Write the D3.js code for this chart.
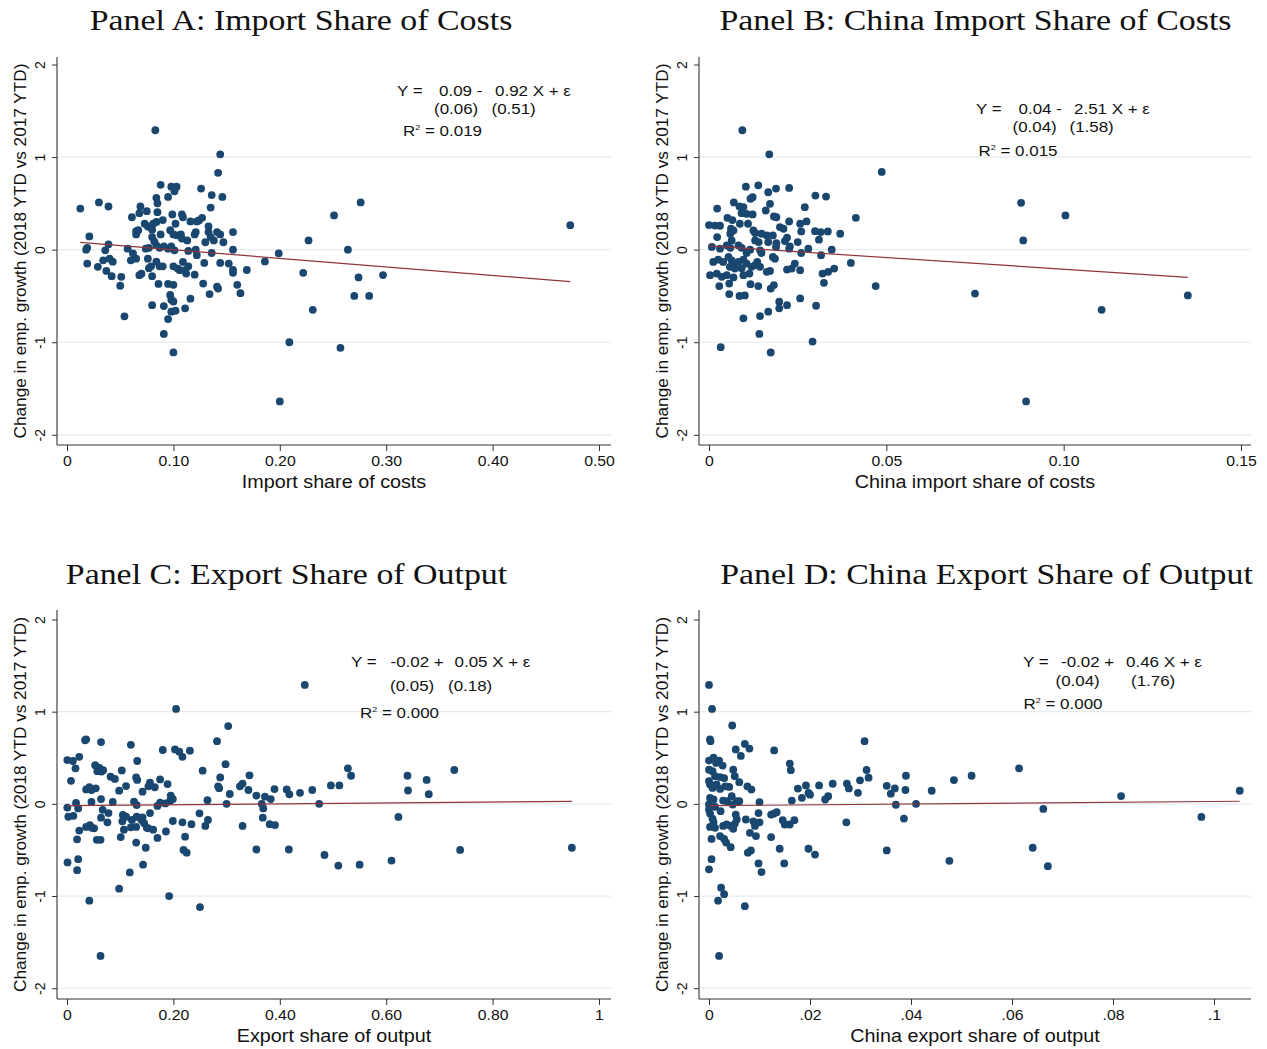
<!DOCTYPE html>
<html>
<head>
<meta charset="utf-8">
<script src="https://cdn.jsdelivr.net/npm/d3@7"></script>
<style>
  body { margin: 0; background: #fff; }
  svg { display: block; }
</style>
</head>
<body>
<svg id="chart" width="1267" height="1049"></svg>
<script>
// scatter points: [x, change in emp. growth]
const importShare = [
  [0.083,1.29],[0.144,1.03],[0.142,0.83],[0.088,0.70],[0.098,0.68],[0.103,0.68],[0.101,0.63],[0.126,0.66],
  [0.136,0.59],[0.146,0.57],[0.095,0.57],[0.084,0.56],[0.085,0.50],[0.135,0.455],[0.0125,0.444],[0.030,0.51],
  [0.039,0.466],[0.069,0.466],[0.068,0.394],[0.075,0.416],[0.061,0.35],[0.085,0.405],[0.099,0.38],[0.108,0.38],
  [0.109,0.35],[0.116,0.305],[0.122,0.305],[0.127,0.344],[0.124,0.315],[0.102,0.28],[0.073,0.28],[0.076,0.25],
  [0.081,0.28],[0.084,0.30],[0.080,0.215],[0.065,0.20],[0.065,0.165],[0.067,0.21],[0.090,0.32],[0.097,0.21],
  [0.100,0.165],[0.103,0.155],[0.107,0.165],[0.108,0.12],[0.113,0.10],[0.088,0.165],[0.080,0.136],[0.082,0.09],
  [0.121,0.19],[0.120,0.165],[0.133,0.19],[0.133,0.25],[0.141,0.19],[0.144,0.165],[0.147,0.08],[0.156,0.19],
  [0.130,0.08],[0.135,0.136],[0.138,0.10],[0.021,0.143],[0.039,0.057],[0.019,0.02],[0.018,0.0],[0.036,-0.007],
  [0.057,0.01],[0.074,0.01],[0.077,0.02],[0.084,0.047],[0.087,0.02],[0.091,0.036],[0.095,0.01],[0.098,0.036],
  [0.101,-0.007],[0.114,-0.014],[0.121,0.0],[0.156,0.0],[0.136,-0.036],[0.062,-0.04],[0.060,-0.115],[0.040,-0.097],
  [0.043,-0.13],[0.034,-0.115],[0.019,-0.15],[0.029,-0.186],[0.065,-0.097],[0.076,-0.097],[0.084,-0.13],[0.087,-0.18],
  [0.090,-0.18],[0.077,-0.20],[0.079,-0.18],[0.100,-0.18],[0.104,-0.204],[0.106,-0.222],[0.111,-0.222],[0.114,-0.18],
  [0.112,-0.258],[0.109,-0.133],[0.129,-0.143],[0.122,-0.06],[0.144,-0.143],[0.152,-0.15],[0.156,-0.22],[0.156,-0.25],
  [0.169,-0.22],[0.037,-0.23],[0.042,-0.287],[0.051,-0.294],[0.050,-0.39],[0.068,-0.276],[0.070,-0.26],[0.080,-0.287],
  [0.120,-0.27],[0.086,-0.37],[0.095,-0.37],[0.100,-0.38],[0.128,-0.366],[0.141,-0.40],[0.142,-0.42],[0.134,-0.48],
  [0.160,-0.38],[0.163,-0.47],[0.097,-0.49],[0.098,-0.54],[0.100,-0.56],[0.116,-0.53],[0.080,-0.60],[0.091,-0.61],
  [0.111,-0.634],[0.098,-0.67],[0.102,-0.66],[0.054,-0.72],[0.095,-0.75],[0.091,-0.91],[0.100,-1.11],
  [0.186,-0.127],[0.199,-0.04],[0.200,-1.64],[0.209,-1.0],[0.222,-0.25],[0.227,0.10],[0.231,-0.65],[0.251,0.37],
  [0.257,-1.06],[0.264,0.0],[0.270,-0.50],[0.274,-0.30],[0.276,0.51],[0.284,-0.50],[0.297,-0.275],[0.473,0.264]
];

const chinaImportShare = [
  [0.0094,1.29],[0.017,1.03],[0.0487,0.84],[0.088,0.506],[0.1005,0.37],[0.0886,0.10],[0.047,-0.394],[0.075,-0.474],
  [0.135,-0.495],[0.1107,-0.65],[0.0894,-1.64],
  [0.0104,0.68],[0.0139,0.695],[0.0167,0.62],[0.0189,0.66],[0.0226,0.667],[0.030,0.584],[0.033,0.573],[0.0123,0.566],
  [0.0117,0.55],[0.0172,0.495],[0.007,0.51],[0.0086,0.466],[0.0097,0.46],[0.0092,0.394],[0.0023,0.444],[0.027,0.459],
  [0.016,0.423],[0.0106,0.387],[0.0123,0.38],[0.0052,0.344],[0.0066,0.32],[0.0183,0.358],[0.019,0.35],[0.0414,0.344],
  [0.0226,0.305],[0.0,0.265],[0.0017,0.26],[0.0031,0.258],[0.0257,0.28],[0.0275,0.305],[0.0087,0.28],[0.011,0.28],
  [0.0062,0.226],[0.0069,0.208],[0.0125,0.208],[0.013,0.18],[0.020,0.244],[0.021,0.226],[0.026,0.197],[0.0299,0.20],
  [0.0315,0.19],[0.0335,0.197],[0.037,0.172],[0.031,0.108],[0.0023,0.136],[0.006,0.172],[0.0064,0.10],[0.0148,0.172],
  [0.0163,0.154],[0.018,0.154],[0.013,0.10],[0.014,0.082],[0.0167,0.082],[0.022,0.129],[0.0214,0.093],[0.019,0.07],
  [0.0189,0.029],[0.0228,0.036],[0.0226,0.01],[0.025,0.082],[0.028,0.01],[0.0346,0.0],[0.0008,0.029],[0.0031,0.01],
  [0.0083,0.047],[0.0092,0.02],[0.005,0.047],[0.006,0.02],[0.0106,-0.036],[0.0116,0.0],[0.0144,-0.007],[0.0148,-0.036],
  [0.0186,-0.097],[0.018,-0.079],[0.026,-0.036],[0.0316,-0.06],[0.040,-0.143],[0.0012,-0.133],[0.0026,-0.108],[0.004,-0.133],
  [0.0055,-0.079],[0.0064,-0.115],[0.0069,-0.168],[0.0059,-0.186],[0.0073,-0.204],[0.0097,-0.108],[0.0106,-0.15],[0.0092,-0.20],
  [0.0083,-0.133],[0.012,-0.186],[0.013,-0.168],[0.0136,-0.133],[0.0144,-0.186],[0.0114,-0.258],[0.0097,-0.276],[0.0163,-0.24],
  [0.0172,-0.23],[0.022,-0.215],[0.0233,-0.204],[0.0242,-0.15],[0.0257,-0.222],[0.0003,-0.276],[0.0022,-0.258],[0.0036,-0.294],
  [0.005,-0.276],[0.0069,-0.30],[0.032,-0.258],[0.0336,-0.24],[0.0353,-0.204],[0.0029,-0.394],[0.0057,-0.366],[0.0117,-0.373],
  [0.0139,-0.394],[0.0174,-0.42],[0.0183,-0.383],[0.0324,-0.358],[0.0057,-0.48],[0.0086,-0.50],[0.0101,-0.495],[0.0198,-0.563],
  [0.0198,-0.634],[0.022,-0.60],[0.0257,-0.527],[0.0302,-0.606],[0.0167,-0.67],[0.0144,-0.717],[0.0097,-0.742],[0.0142,-0.91],
  [0.0292,-0.993],[0.0033,-1.054],[0.0174,-1.111]
];

const exportShare = [
  [0.447,1.29],[0.205,1.03],[0.303,0.844],[0.034,0.69],[0.036,0.70],[0.064,0.67],[0.120,0.64],[0.180,0.584],
  [0.203,0.59],[0.211,0.566],[0.217,0.51],[0.231,0.577],[0.282,0.68],[0.0006,0.475],[0.011,0.465],[0.023,0.51],
  [0.016,0.385],[0.132,0.465],[0.298,0.43],[0.255,0.36],[0.053,0.42],[0.061,0.39],[0.057,0.355],[0.065,0.35],
  [0.068,0.365],[0.103,0.363],[0.082,0.294],[0.090,0.27],[0.0075,0.25],[0.130,0.287],[0.132,0.26],[0.156,0.23],
  [0.153,0.19],[0.165,0.18],[0.175,0.265],[0.189,0.215],[0.288,0.287],[0.284,0.19],[0.286,0.17],[0.330,0.22],
  [0.325,0.19],[0.343,0.31],[0.341,0.15],[0.306,0.107],[0.356,0.09],[0.372,0.078],[0.383,0.052],[0.390,0.16],
  [0.413,0.157],[0.418,0.103],[0.438,0.12],[0.461,0.15],[0.496,0.20],[0.512,0.20],[0.474,0.0],[0.036,0.157],
  [0.042,0.18],[0.046,0.15],[0.054,0.168],[0.098,0.143],[0.111,0.193],[0.142,0.132],[0.0006,-0.04],[0.0025,-0.14],
  [0.012,-0.13],[0.017,0.01],[0.021,-0.05],[0.046,0.02],[0.064,0.052],[0.086,0.02],[0.126,0.023],[0.131,-0.013],
  [0.142,-0.146],[0.156,-0.10],[0.170,-0.023],[0.175,0.013],[0.185,0.005],[0.194,0.034],[0.199,0.052],[0.195,0.09],
  [0.264,0.04],[0.300,0.0],[0.366,0.0],[0.369,-0.05],[0.067,-0.065],[0.064,-0.15],[0.078,-0.10],[0.105,-0.12],
  [0.111,-0.14],[0.122,-0.175],[0.131,-0.14],[0.140,-0.175],[0.145,-0.21],[0.153,-0.265],[0.130,-0.25],[0.120,-0.255],
  [0.036,-0.25],[0.043,-0.23],[0.047,-0.26],[0.051,-0.265],[0.076,-0.20],[0.104,-0.19],[0.107,-0.28],[0.023,-0.29],
  [0.150,-0.26],[0.162,-0.28],[0.186,-0.30],[0.170,-0.37],[0.101,-0.36],[0.019,-0.385],[0.056,-0.39],[0.063,-0.39],
  [0.199,-0.186],[0.217,-0.20],[0.234,-0.22],[0.222,-0.356],[0.249,-0.103],[0.260,-0.24],[0.265,-0.175],[0.130,-0.42],
  [0.148,-0.476],[0.219,-0.50],[0.225,-0.53],[0.330,-0.24],[0.368,-0.15],[0.381,-0.22],[0.391,-0.23],[0.356,-0.495],
  [0.417,-0.495],[0.484,-0.555],[0.510,-0.67],[0.001,-0.635],[0.021,-0.60],[0.019,-0.72],[0.143,-0.66],[0.118,-0.744],
  [0.098,-0.92],[0.192,-1.0],[0.042,-1.05],[0.063,-1.65],[0.250,-1.12],
  [0.528,0.385],[0.534,0.305],[0.550,-0.66],[0.610,-0.615],[0.623,-0.142],[0.640,0.305],[0.641,0.145],[0.676,0.26],
  [0.680,0.105],[0.728,0.367],[0.739,-0.50],[0.949,-0.476]
];

const chinaExportShare = [
  [0.0,1.29],[0.0006,1.03],[0.0046,0.85],[0.0002,0.70],[0.0003,0.68],[0.0071,0.65],[0.008,0.60],[0.0053,0.59],
  [0.0063,0.52],[0.0129,0.58],[0.016,0.437],[0.0162,0.365],[0.0,0.47],[0.0009,0.50],[0.0014,0.444],[0.002,0.47],
  [0.0027,0.415],[0.0,0.37],[0.0007,0.354],[0.0048,0.37],[0.0051,0.30],[0.0012,0.30],[0.0022,0.29],[0.003,0.28],
  [0.0,0.245],[0.0002,0.21],[0.0007,0.173],[0.006,0.235],[0.0076,0.19],[0.0084,0.155],[0.0015,0.21],[0.0022,0.162],
  [0.0032,0.19],[0.004,0.184],[0.0176,0.166],[0.0192,0.20],[0.0197,0.12],[0.0184,0.065],[0.020,0.10],[0.0218,0.20],
  [0.0236,0.083],[0.023,0.047],[0.0164,0.036],[0.0002,0.065],[0.0009,0.047],[0.0028,0.036],[0.0036,0.029],[0.0045,0.083],
  [0.0047,-0.007],[0.0055,0.029],[0.006,0.029],[0.010,0.018],[0.0,-0.007],[0.0,-0.061],[0.0002,-0.105],[0.0012,-0.032],
  [0.0023,-0.08],[0.0007,-0.16],[0.0009,-0.20],[0.0002,-0.25],[0.0012,-0.26],[0.0053,-0.116],[0.0055,-0.17],[0.0051,-0.217],
  [0.0073,-0.17],[0.0088,-0.19],[0.0091,-0.24],[0.0098,-0.10],[0.010,-0.20],[0.0123,-0.116],[0.0129,-0.105],[0.0134,-0.09],
  [0.0146,-0.177],[0.015,-0.224],[0.0169,-0.177],[0.016,-0.224],[0.0028,-0.24],[0.0035,-0.224],[0.0043,-0.24],[0.0048,-0.27],
  [0.0081,-0.314],[0.0093,-0.35],[0.0005,-0.38],[0.0022,-0.35],[0.003,-0.38],[0.0034,-0.42],[0.0043,-0.47],[0.0123,-0.36],
  [0.014,-0.487],[0.0197,-0.487],[0.021,-0.55],[0.0083,-0.505],[0.0077,-0.53],[0.0098,-0.646],[0.0104,-0.74],[0.0149,-0.646],
  [0.0005,-0.60],[0.0,-0.71],[0.0024,-0.91],[0.003,-0.98],[0.0018,-1.05],[0.0071,-1.11],[0.002,-1.65],
  [0.0308,0.68],[0.0312,0.367],[0.0316,0.284],[0.0299,0.255],[0.0295,0.12],[0.0273,0.22],[0.0277,0.167],[0.0245,0.218],
  [0.0272,-0.20],[0.0352,0.196],[0.036,0.11],[0.0368,0.167],[0.037,-0.01],[0.0386,-0.16],[0.039,0.305],[0.0389,0.15],
  [0.041,0.0],[0.0352,-0.505],[0.0441,0.142],[0.0485,0.258],[0.0476,-0.618],[0.052,0.305],[0.0614,0.385],[0.0641,-0.476],
  [0.0662,-0.055],[0.0671,-0.676],[0.0816,0.084],[0.0975,-0.142],[0.1051,0.142]
];

const panelTitles = [
  "Panel A: Import Share of Costs",
  "Panel B: China Import Share of Costs",
  "Panel C: Export Share of Output",
  "Panel D: China Export Share of Output"
];
const xAxisTitles = ["Import share of costs", "China import share of costs", "Export share of output", "China export share of output"];
const yAxisTitle = "Change in emp. growth (2018 YTD vs 2017 YTD)";

const xTickValues = [
  [0, 0.1, 0.2, 0.3, 0.4, 0.5],
  [0, 0.05, 0.10, 0.15],
  [0, 0.2, 0.4, 0.6, 0.8, 1],
  [0, 0.02, 0.04, 0.06, 0.08, 0.1]
];
const xTickLabels = [
  ["0", "0.10", "0.20", "0.30", "0.40", "0.50"],
  ["0", "0.05", "0.10", "0.15"],
  ["0", "0.20", "0.40", "0.60", "0.80", "1"],
  ["0", ".02", ".04", ".06", ".08", ".1"]
];
const yTickValues = [-2, -1, 0, 1, 2];
const yTickLabels = ["-2", "-1", "0", "1", "2"];
const gridValues = [-2, -1, 0, 1];

// regression results: intercept, slope, standard errors, R-squared
const intercepts = [0.09, 0.04, -0.02, -0.02];
const slopes = [-0.92, -2.51, 0.05, 0.46];
const interceptSE = [0.06, 0.04, 0.05, 0.04];
const slopeSE = [0.51, 1.58, 0.18, 1.76];
const rSquared = ["0.019", "0.015", "0.000", "0.000"];

const datasets = [importShare, chinaImportShare, exportShare, chinaExportShare];

// page layout (pixels)
const layout = [
  { left: 57, right: 611, top: 57, bottom: 445, xTick0: 67, xTick1: 599, yTop: 64.5, yBot: 434.8,
    titleX: 301, titleY: 30,
    eq: { x: [397, 439, 495], se: [434, 491.5], r2: 403, rows: [95.5, 113.8, 135.5] } },
  { left: 699, right: 1251, top: 57, bottom: 445, xTick0: 709, xTick1: 1241, yTop: 64.5, yBot: 434.8,
    titleX: 975.5, titleY: 30,
    eq: { x: [976, 1018.5, 1074], se: [1012.5, 1069.5], r2: 978.5, rows: [113.5, 132, 155.5] } },
  { left: 57, right: 611, top: 610, bottom: 999, xTick0: 67, xTick1: 599, yTop: 619.5, yBot: 988.2,
    titleX: 286.5, titleY: 584,
    eq: { x: [351, 390.5, 454.5], se: [390, 448], r2: 360, rows: [667, 690.5, 717.5] } },
  { left: 699, right: 1251, top: 610, bottom: 999, xTick0: 709, xTick1: 1214, yTop: 619.5, yBot: 988.2,
    titleX: 986.5, titleY: 584,
    eq: { x: [1023, 1061, 1126], se: [1055.5, 1131], r2: 1023.5, rows: [667, 685.5, 709] } }
];

const SX = 1.13;          // the figure is slightly stretched horizontally
const navy = "#1a476f";
const maroon = "#90353b";
const gridColor = "#e3ecef";
const axisColor = "#333";
const sans = "'Liberation Sans', Arial, Helvetica, sans-serif";
const serif = "'Liberation Serif', 'Times New Roman', serif";

const svg = d3.select("#chart");
// plain hyphen for negative numbers, as in the original
const fmt = d3.formatLocale({ decimal: ".", thousands: ",", grouping: [3], currency: ["", ""], minus: "-" }).format(".2f");

function hText(g, x, y, str, size, anchor, family) {
  return g.append("text")
    .attr("transform", `translate(${x},${y}) scale(${SX},1)`)
    .attr("text-anchor", anchor || "start")
    .style("font-family", family || sans)
    .style("font-size", size + "px")
    .attr("fill", "#111")
    .text(str);
}

datasets.forEach((data, i) => {
  const L = layout[i];
  const ticks = xTickValues[i];
  const g = svg.append("g").attr("class", "panel");

  const xScale = d3.scaleLinear()
    .domain([ticks[0], ticks[ticks.length - 1]])
    .range([L.xTick0, L.xTick1]);
  const yScale = d3.scaleLinear()
    .domain([-2, 2])
    .range([L.yBot, L.yTop]);

  // gridlines
  g.selectAll(".grid")
    .data(gridValues)
    .enter()
    .append("line")
    .attr("x1", L.left + 1)
    .attr("x2", L.right)
    .attr("y1", d => yScale(d))
    .attr("y2", d => yScale(d))
    .attr("stroke", gridColor)
    .attr("stroke-width", 1.2);

  // x axis
  const xAxis = d3.axisBottom(xScale)
    .tickValues(ticks)
    .tickFormat((d, k) => xTickLabels[i][k])
    .tickSizeInner(6)
    .tickSizeOuter(0)
    .tickPadding(5);
  const gx = g.append("g")
    .attr("transform", `translate(0, ${L.bottom})`)
    .call(xAxis);
  gx.select(".domain").remove();
  gx.selectAll(".tick line").attr("stroke", axisColor);
  gx.selectAll(".tick text")
    .attr("transform", `scale(${SX},1)`)
    .attr("fill", "#111")
    .style("font-family", sans)
    .style("font-size", "14px");

  // y axis with rotated labels
  const yAxis = d3.axisLeft(yScale)
    .tickValues(yTickValues)
    .tickFormat((d, k) => yTickLabels[k])
    .tickSizeInner(5)
    .tickSizeOuter(0);
  const gy = g.append("g")
    .attr("transform", `translate(${L.left}, 0)`)
    .call(yAxis);
  gy.select(".domain").remove();
  gy.selectAll(".tick line").attr("stroke", axisColor);
  gy.selectAll(".tick text")
    .attr("x", null)
    .attr("dy", null)
    .attr("transform", "translate(-17,0) rotate(-90)")
    .attr("text-anchor", "middle")
    .attr("dominant-baseline", "central")
    .attr("fill", "#111")
    .style("font-family", sans)
    .style("font-size", "14px");

  // axis lines
  g.append("line")
    .attr("x1", L.left).attr("x2", L.left)
    .attr("y1", L.top).attr("y2", L.bottom)
    .attr("stroke", axisColor).attr("stroke-width", 1.1);
  g.append("line")
    .attr("x1", L.left).attr("x2", L.right)
    .attr("y1", L.bottom).attr("y2", L.bottom)
    .attr("stroke", axisColor).attr("stroke-width", 1.1);

  // points
  g.selectAll(".dot")
    .data(data)
    .enter()
    .append("circle")
    .attr("class", "dot")
    .attr("cx", d => xScale(d[0]))
    .attr("cy", d => yScale(d[1]))
    .attr("r", 3.9)
    .attr("fill", navy);

  // fitted line over the data range
  const xExtent = d3.extent(data, d => d[0]);
  const line = d3.line()
    .x(d => xScale(d))
    .y(d => yScale(intercepts[i] + slopes[i] * d));
  g.append("path")
    .datum(xExtent)
    .attr("d", line)
    .attr("fill", "none")
    .attr("stroke", maroon)
    .attr("stroke-width", 1.2);

  // titles
  hText(g, L.titleX, L.titleY, panelTitles[i], 30, "middle", serif);
  hText(g, (L.left + L.right) / 2, L.bottom + 43, xAxisTitles[i], 17.5, "middle");
  g.append("text")
    .attr("transform", `translate(${L.left - 37}, ${(L.top + L.bottom) / 2}) rotate(-90)`)
    .attr("text-anchor", "middle")
    .attr("dominant-baseline", "central")
    .style("font-family", sans)
    .style("font-size", "17.2px")
    .attr("fill", "#111")
    .text(yAxisTitle);

  // regression equation
  const E = L.eq;
  const sign = slopes[i] < 0 ? "-" : "+";
  hText(g, E.x[0], E.rows[0], "Y =", 15);
  hText(g, E.x[1], E.rows[0], `${fmt(intercepts[i])} ${sign}`, 15);
  hText(g, E.x[2], E.rows[0], `${fmt(Math.abs(slopes[i]))} X + ε`, 15);
  hText(g, E.se[0], E.rows[1], `(${fmt(interceptSE[i])})`, 15);
  hText(g, E.se[1], E.rows[1], `(${fmt(slopeSE[i])})`, 15);
  const r2 = hText(g, E.r2, E.rows[2], "R", 15);
  r2.append("tspan").attr("dy", -6).style("font-size", "8px").text("2");
  r2.append("tspan").attr("dy", 6).text(` = ${rSquared[i]}`);
});
</script>
</body>
</html>
